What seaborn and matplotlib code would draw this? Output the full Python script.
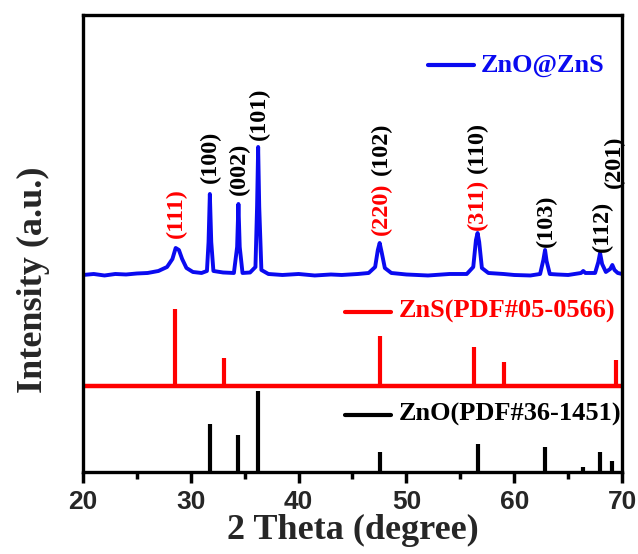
import matplotlib
matplotlib.use("Agg")
import matplotlib.pyplot as plt
import seaborn as sns
import pandas as pd

theta = [20.0, 21.0, 22.0, 23.0, 24.0, 25.0, 26.0, 27.0, 27.8, 28.3, 28.6, 28.9, 29.2, 29.6, 30.2,
         31.0, 31.5, 31.65, 31.77, 31.9, 32.1, 33.0, 34.0, 34.3, 34.42, 34.54, 34.8,
         35.5, 36.0, 36.15, 36.25, 36.35, 36.55, 37.2, 38.5, 40.0, 41.5, 43.0, 44.0, 45.5, 46.5, 47.1, 47.35,
         47.52, 47.7, 48.0, 48.6, 50.0, 52.0, 54.0, 55.6, 56.2, 56.45, 56.6, 56.75, 57.0, 57.6,
         59.0, 60.0, 61.5, 62.4, 62.7, 62.86, 63.0, 63.3, 64.0, 65.0, 66.2, 66.4, 66.6, 67.5, 67.8,
         67.96, 68.15, 68.5, 68.9, 69.1, 69.3, 69.6, 70.0]
intensity = [197, 198, 196.5, 198, 197.5, 198.5, 199, 201, 205, 213, 224, 222, 213, 204, 200,
             199, 201, 230, 278, 230, 201, 199.5, 199, 225, 268, 225, 199,
             199.5, 205, 265, 325, 265, 202, 198, 197, 198, 196.5, 197.5, 197, 198, 199, 205, 222,
             229, 220, 204, 199, 197.5, 196.5, 198, 198, 205, 232, 239, 230, 204, 199,
             198, 197, 196.5, 198, 212, 222, 211, 198, 197.5, 197, 199, 201, 199, 199, 210,
             219, 208, 200, 203, 207, 202, 199, 198]

# ZnS reference PDF#05-0566
zns_pos = [28.56, 33.09, 47.51, 56.29, 59.06, 69.43]
zns_top = [163, 114, 136, 125, 110, 112]
zns_base = 86

# ZnO reference PDF#36-1451
zno_pos = [31.77, 34.42, 36.25, 47.54, 56.60, 62.86, 66.38, 67.96, 69.10]
zno_top = [48, 37, 81, 20, 28, 25, 5, 20, 11]

# peak labels: text, 2theta, bottom of label, colour
lab_text = ["(111)", "(100)", "(002)", "(101)", "(220)", "(102)", "(311)", "(110)",
            "(103)", "(112)", "(201)"]
lab_x = [28.65, 31.8, 34.5, 36.4, 47.7, 47.7, 56.6, 56.6, 63.0, 68.2, 69.3]
lab_y = [234, 289, 277, 332, 237, 297, 242, 299, 225, 220, 284]
lab_col = ["red", "black", "black", "black", "red", "black", "red", "black",
           "black", "black", "black"]

sns.set_style("ticks")
plt.rcParams["font.family"] = ["Liberation Serif", "DejaVu Serif"]

fig = plt.figure(figsize=(6.38, 5.54), dpi=100)
ax = fig.add_axes([0.130, 0.148, 0.845, 0.825])

df = pd.DataFrame({"theta": theta, "I": intensity})
sns.lineplot(data=df, x="theta", y="I", ax=ax, color="#0a0af0", lw=2.8)

ax.axhline(zns_base, color="#ff0000", lw=3.2)
ax.vlines(zns_pos, zns_base, zns_top, color="#ff0000", lw=3)
ax.vlines(zno_pos, 0, zno_top, color="black", lw=3)

for t, x, y, c in zip(lab_text, lab_x, lab_y, lab_col):
    ax.text(x, y, t, rotation=90, ha="center", va="bottom", color=c,
            fontsize=17.5, fontweight="bold")

# legend-like keys
keys = [("ZnO@ZnS", "#0a0af0", 0.890), ("ZnS(PDF#05-0566)", "#ff0000", 0.351),
        ("ZnO(PDF#36-1451)", "black", 0.125)]
for txt, c, yy in keys:
    x0 = 0.64 if txt == "ZnO@ZnS" else 0.487
    ax.plot([x0, x0 + 0.085], [yy, yy], color=c, lw=3, transform=ax.transAxes)
    ax.text(x0 + 0.098, yy, txt, color=c, fontsize=19, fontweight="bold",
            ha="left", va="center", transform=ax.transAxes)

ax.set_xlim(20, 70)
ax.set_ylim(0, 457)
ax.set_xticks([20, 30, 40, 50, 60, 70])
ax.set_xticks([25, 35, 45, 55, 65], minor=True)
ax.set_yticks([])
ax.tick_params(axis="x", which="major", direction="out", length=8, width=2.5,
               color="black", pad=5)
ax.tick_params(axis="x", which="minor", direction="out", length=5, width=2.5,
               color="black")
for lbl in ax.get_xticklabels():
    lbl.set_fontfamily("Liberation Sans")
    lbl.set_fontweight("bold")
    lbl.set_fontsize(19)
for s in ax.spines.values():
    s.set_linewidth(2.4)
    s.set_color("black")
    s.set_visible(True)

ax.set_xlabel("2 Theta (degree)", fontsize=26, fontweight="bold", labelpad=0)
ax.set_ylabel("Intensity (a.u.)", fontsize=26, fontweight="bold")
ax.yaxis.set_label_coords(-0.062, 0.42)

fig.savefig("out.png", dpi=100)
